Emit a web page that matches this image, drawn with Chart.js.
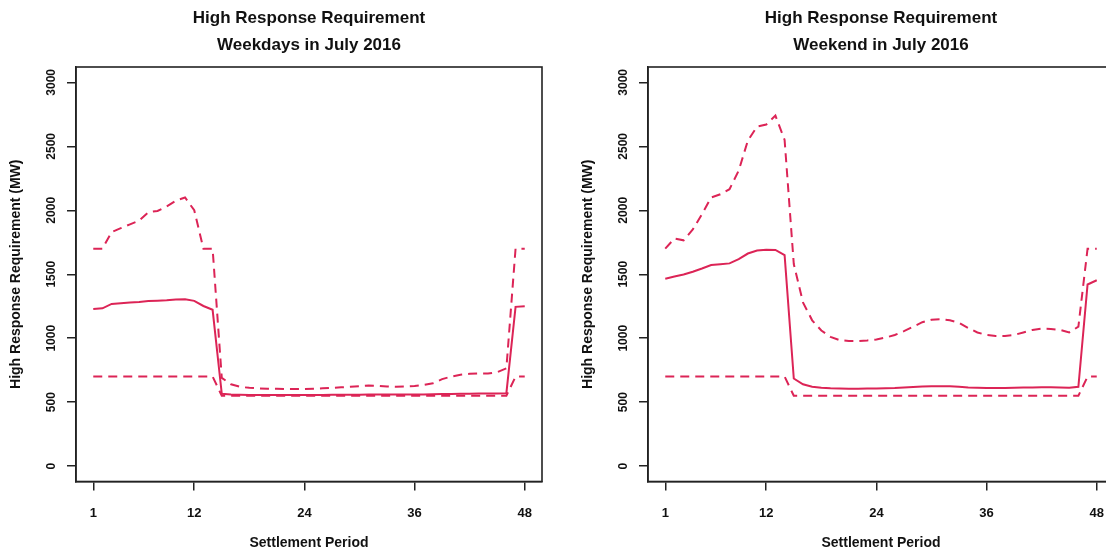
<!DOCTYPE html>
<html>
<head>
<meta charset="utf-8">
<title>High Response Requirement, July 2016</title>
<script src="https://cdn.jsdelivr.net/npm/chart.js@4.4.1/dist/chart.umd.min.js"></script>
<style>
  html, body { margin: 0; padding: 0; background: #fff; overflow: hidden; width: 1106px; height: 551px; }
  .panel { position: absolute; top: 0; width: 618px; height: 551px; }
  #weekdayPanel { left: 0; }
  #weekendPanel { left: 572px; }
</style>
</head>
<body>
<div class="panel" id="weekdayPanel"><canvas id="weekdayChart" width="618" height="551"></canvas></div>
<div class="panel" id="weekendPanel"><canvas id="weekendChart" width="618" height="551"></canvas></div>
<script>
// Settlement periods of the day (half-hours)
const periods = [1, 2, 3, 4, 5, 6, 7, 8, 9, 10, 11, 12, 13, 14, 15, 16, 17, 18, 19, 20, 21, 22, 23, 24,
                 25, 26, 27, 28, 29, 30, 31, 32, 33, 34, 35, 36, 37, 38, 39, 40, 41, 42, 43, 44, 45, 46, 47, 48];
const xTickValues = [1, 12, 24, 36, 48];
const yTickValues = [0, 500, 1000, 1500, 2000, 2500, 3000];

// Weekdays, MW
const weekdayMax = [1700, 1700, 1830, 1860, 1890, 1920, 1985, 1995, 2030, 2075, 2100, 2000, 1700, 1700,
                    690, 640, 620, 612, 608, 605, 605, 603, 603, 603, 605, 608, 612, 616, 620, 625, 630, 628,
                    622, 620, 622, 626, 635, 648, 680, 700, 715, 722, 725, 724, 735, 765, 1700, 1700];
const weekdayMean = [1228, 1234, 1268, 1274, 1280, 1284, 1290, 1293, 1296, 1303, 1305, 1292, 1252, 1222,
                     565, 560, 558, 557, 557, 556, 556, 556, 556, 556, 557, 557, 558, 558, 559, 559, 560, 560,
                     560, 560, 560, 560, 561, 562, 563, 564, 565, 566, 567, 568, 568, 570, 1245, 1250];
const weekdayMin = [700, 700, 700, 700, 700, 700, 700, 700, 700, 700, 700, 700, 700, 700,
                    550, 550, 550, 550, 550, 550, 550, 550, 550, 550, 550, 550, 550, 550, 550, 550, 550, 550,
                    550, 550, 550, 550, 550, 550, 550, 550, 550, 550, 550, 550, 550, 550, 700, 700];

// Weekend, MW
const weekendMax = [1700, 1780, 1765, 1850, 1970, 2100, 2125, 2165, 2310, 2545, 2655, 2670, 2740, 2550,
                    1580, 1280, 1140, 1060, 1010, 985, 978, 978, 983, 990, 1005, 1025, 1055, 1090, 1125, 1145,
                    1148, 1140, 1120, 1080, 1045, 1025, 1018, 1018, 1025, 1045, 1065, 1075, 1072, 1065, 1045,
                    1090, 1700, 1700];
const weekendMean = [1465, 1482, 1498, 1520, 1545, 1572, 1578, 1585, 1618, 1662, 1685, 1692, 1690, 1650,
                     685, 640, 620, 612, 608, 606, 605, 605, 606, 607, 608, 610, 614, 618, 622, 625, 625, 624,
                     620, 615, 612, 610, 610, 610, 612, 614, 615, 616, 616, 615, 612, 620, 1420, 1453];
const weekendMin = [700, 700, 700, 700, 700, 700, 700, 700, 700, 700, 700, 700, 700, 700,
                    550, 550, 550, 550, 550, 550, 550, 550, 550, 550, 550, 550, 550, 550, 550, 550, 550, 550,
                    550, 550, 550, 550, 550, 550, 550, 550, 550, 550, 550, 550, 550, 550, 700, 700];

const FONT = '"Liberation Sans", Arial, Helvetica, sans-serif';
const LINE_COLOR = '#DC2456';
const INK = '#111';
const AXIS = '#222';

// Box drawn around the plotting region
const frame = {
  id: 'frame',
  afterDatasetsDraw(chart) {
    const { ctx, chartArea: a } = chart;
    ctx.save();
    ctx.strokeStyle = AXIS;
    ctx.lineWidth = 1.6;
    ctx.strokeRect(a.left, a.top, a.right - a.left, a.bottom - a.top);
    ctx.restore();
  }
};

function toPoints(values) {
  return periods.map((p, i) => ({ x: p, y: values[i] }));
}

function series(values, dashed) {
  return {
    data: toPoints(values),
    borderColor: LINE_COLOR,
    borderWidth: 2,
    borderDash: dashed ? [9, 6] : [],
    pointRadius: 0,
    tension: 0,
    fill: false
  };
}

function makeChart(canvasId, subtitle, maxVals, meanVals, minVals) {
  return new Chart(document.getElementById(canvasId), {
    type: 'line',
    data: {
      datasets: [series(maxVals, true), series(meanVals, false), series(minVals, true)]
    },
    options: {
      responsive: false,
      animation: false,
      devicePixelRatio: 1,
      layout: { padding: 0 },
      plugins: {
        legend: { display: false },
        tooltip: { enabled: false },
        title: {
          display: true,
          text: ['High Response Requirement', subtitle],
          color: INK,
          font: { family: FONT, size: 17, weight: 'bold', lineHeight: 27 / 17 },
          padding: { top: 5, bottom: 8 }
        }
      },
      scales: {
        x: {
          type: 'linear',
          position: 'bottom',
          min: -0.88,
          max: 49.88,
          afterBuildTicks: s => { s.ticks = xTickValues.map(v => ({ value: v })); },
          afterFit: s => { s.height = 69.5; },
          grid: { display: true, drawOnChartArea: false, drawTicks: true, tickLength: 9, color: AXIS, lineWidth: 1.5 },
          border: { display: true, color: AXIS, width: 1.5 },
          ticks: {
            color: INK, autoSkip: false, maxRotation: 0, padding: 15.5,
            font: { family: FONT, size: 13, weight: 'bold' },
            callback: v => String(v)
          },
          title: {
            display: true, text: 'Settlement Period', color: INK,
            font: { family: FONT, size: 14, weight: 'bold' },
            padding: { top: 0, bottom: -1 }
          }
        },
        y: {
          type: 'linear',
          position: 'left',
          min: -120,
          max: 3120,
          afterBuildTicks: s => { s.ticks = yTickValues.map(v => ({ value: v })); },
          afterFit: s => { s.width = 76; },
          grid: { display: true, drawOnChartArea: false, drawTicks: true, tickLength: 9, color: AXIS, lineWidth: 1.5 },
          border: { display: true, color: AXIS, width: 1.5 },
          ticks: {
            color: INK, autoSkip: false, minRotation: 90, maxRotation: 90,
            crossAlign: 'center', padding: 2,
            font: { family: FONT, size: 12, weight: 'bold' },
            callback: v => String(v)
          },
          title: {
            display: true, text: 'High Response Requirement (MW)', color: INK,
            font: { family: FONT, size: 14, weight: 'bold' },
            padding: { top: 7.6, bottom: 0 }
          }
        },
        // empty margin on the right so the plot box sits centred under the title
        margin: {
          type: 'linear',
          position: 'right',
          display: true,
          min: 0, max: 1,
          afterFit: s => { s.width = 76; },
          grid: { display: false },
          border: { display: false },
          ticks: { display: false }
        }
      }
    },
    plugins: [frame]
  });
}

makeChart('weekdayChart', 'Weekdays in July 2016', weekdayMax, weekdayMean, weekdayMin);
makeChart('weekendChart', 'Weekend in July 2016', weekendMax, weekendMean, weekendMin);
</script>
</body>
</html>
